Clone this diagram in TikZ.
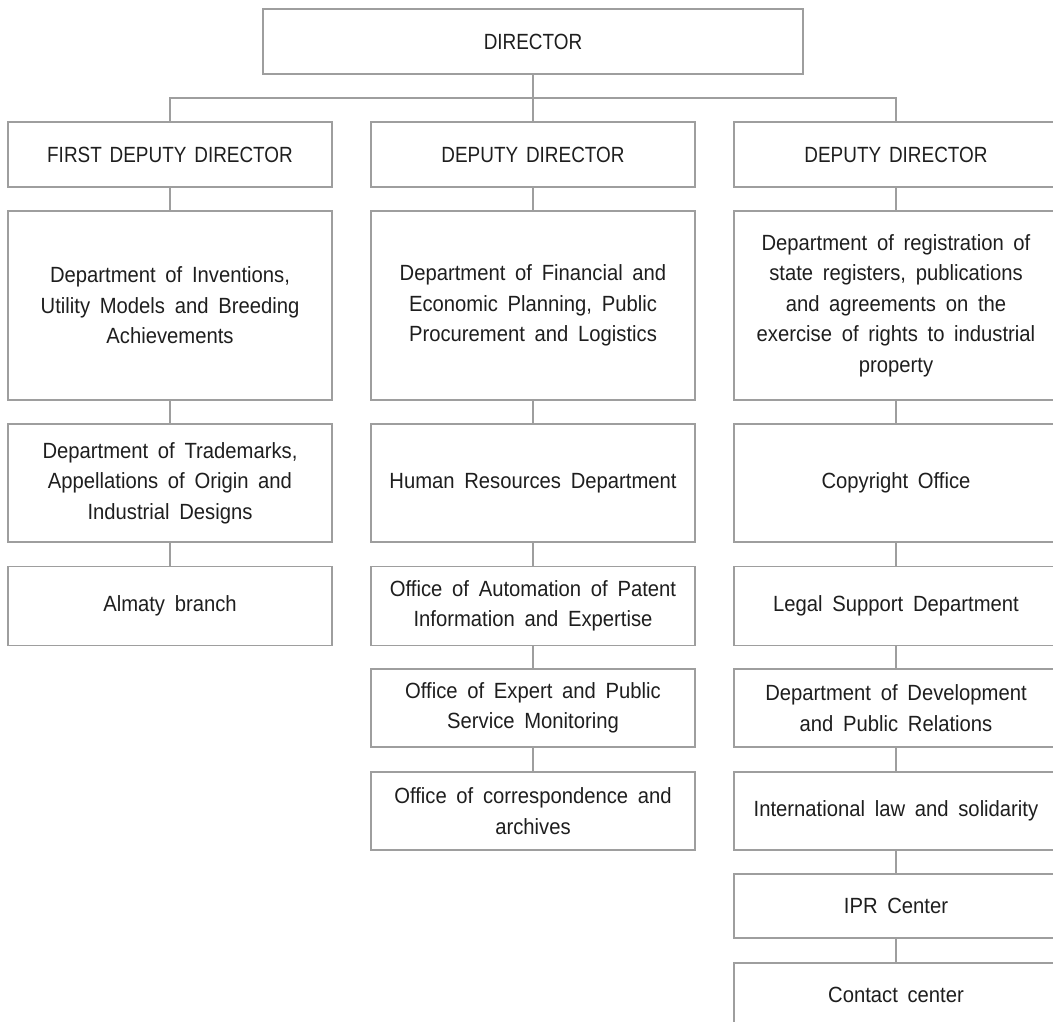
\documentclass[tikz,border=0pt]{standalone}
\usepackage{fontspec}
\setmainfont{Liberation Sans}
\newfontfamily\capfont{Liberation Sans}[FakeStretch=0.86, WordSpace=1.5]
\newfontfamily\txtfont{Liberation Sans}[FakeStretch=0.92, WordSpace=1.73]
\definecolor{linec}{RGB}{158,158,158}
\definecolor{textc}{RGB}{30,30,30}
\begin{document}
\begin{tikzpicture}[x=1pt,y=-1pt,
  box/.style={draw=linec, line width=1.3pt, rectangle, align=center, text=textc,
    inner sep=0pt, minimum width=324pt, font=\txtfont\fontsize{22}{30.5}\selectfont},
  capbox/.style={box, font=\capfont\fontsize{22}{30}\selectfont},
  conn/.style={draw=linec, line width=1.3pt}]
\useasboundingbox (0,0) rectangle (1053,1021);
\clip (0,0) rectangle (1053,1021);
% top
\node[capbox, minimum width=540pt, minimum height=65pt] (dir) at (533,41.5) {DIRECTOR};
% deputies
\node[capbox, minimum height=65pt] (fd) at (170,154.5) {FIRST DEPUTY DIRECTOR};
\node[capbox, minimum height=65pt] (dd1) at (533,154.5) {DEPUTY DIRECTOR};
\node[capbox, minimum height=65pt] (dd2) at (896,154.5) {DEPUTY DIRECTOR};
\coordinate (bus) at (533,98);
% left column
\node[box, minimum height=189pt] (inv) at (170,305.5) {Department of Inventions,\\Utility Models and Breeding\\Achievements};
\node[box, minimum height=118pt] (tm) at (170,483) {Department of Trademarks,\\Appellations of Origin and\\Industrial Designs};
\node[box, minimum height=79pt] (alm) at (170,606) {Almaty branch};
% middle column
\node[box, minimum height=189pt] (fin) at (533,305.5) {Department of Financial and\\Economic Planning, Public\\Procurement and Logistics};
\node[box, minimum height=118pt] (hr) at (533,483) {Human Resources Department};
\node[box, minimum height=79pt] (auto) at (533,606) {Office of Automation of Patent\\Information and Expertise};
\node[box, minimum height=78pt] (exp) at (533,708) {Office of Expert and Public\\Service Monitoring};
\node[box, minimum height=78pt] (corr) at (533,811) {Office of correspondence and\\archives};
% right column
\node[box, minimum height=189pt] (reg) at (896,305.5) {Department of registration of\\state registers, publications\\and agreements on the\\exercise of rights to industrial\\property};
\node[box, minimum height=118pt] (copy) at (896,483) {Copyright Office};
\node[box, minimum height=79pt] (legal) at (896,606) {Legal Support Department};
\node[box, minimum height=78pt] (dev) at (896,708) {Department of Development\\and Public Relations};
\node[box, minimum height=78pt] (intl) at (896,811) {International law and solidarity};
\node[box, minimum height=64pt] (ipr) at (896,906) {IPR Center};
\node[box, minimum height=64pt] (cc) at (896,995) {Contact center};
% connectors
\draw[conn] (dir.south) -- (dd1.north);
\draw[conn] (fd.north) |- (bus) -| (dd2.north);
\draw[conn] (fd.south) -- (inv.north);
\draw[conn] (inv.south) -- (tm.north);
\draw[conn] (tm.south) -- (alm.north);
\draw[conn] (dd1.south) -- (fin.north);
\draw[conn] (fin.south) -- (hr.north);
\draw[conn] (hr.south) -- (auto.north);
\draw[conn] (auto.south) -- (exp.north);
\draw[conn] (exp.south) -- (corr.north);
\draw[conn] (dd2.south) -- (reg.north);
\draw[conn] (reg.south) -- (copy.north);
\draw[conn] (copy.south) -- (legal.north);
\draw[conn] (legal.south) -- (dev.north);
\draw[conn] (dev.south) -- (intl.north);
\draw[conn] (intl.south) -- (ipr.north);
\draw[conn] (ipr.south) -- (cc.north);
\end{tikzpicture}
\end{document}
